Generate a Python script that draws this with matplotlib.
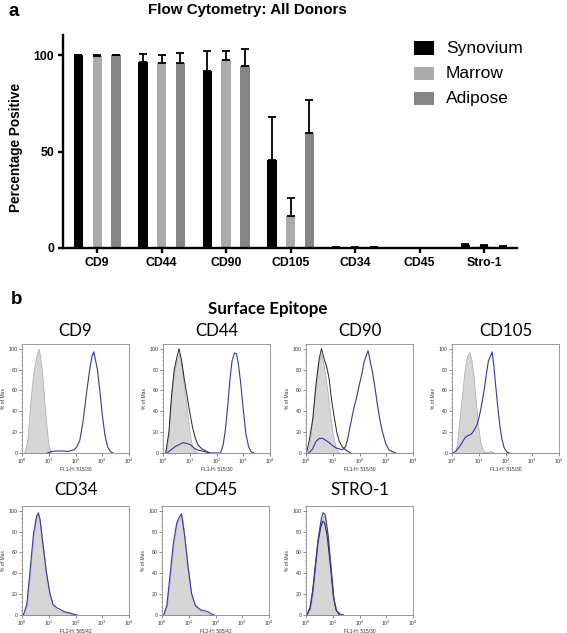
import matplotlib
matplotlib.use("Agg")
import matplotlib.pyplot as plt
import numpy as np
from matplotlib.patches import Rectangle
from matplotlib.ticker import FixedLocator, LogLocator, NullFormatter, MultipleLocator

# ---------------- data: panel a ----------------
categories = ["CD9", "CD44", "CD90", "CD105", "CD34", "CD45", "Stro-1"]
series_names = ["Synovium", "Marrow", "Adipose"]
synovium = [99.8, 96.6, 92.0, 45.8, 0.3, 0.1, 1.4]
synovium_err = [0.3, 3.9, 10.1, 22.2, 0.1, 0.05, 0.5]
marrow = [99.7, 95.7, 97.2, 16.6, 0.2, 0.1, 1.0]
marrow_err = [0.4, 4.3, 4.9, 9.2, 0.1, 0.05, 0.7]
adipose = [99.8, 96.0, 94.1, 59.7, 0.3, 0.1, 0.7]
adipose_err = [0.3, 5.2, 9.2, 16.9, 0.1, 0.05, 0.3]
bar_colors = ["#000000", "#ababab", "#858585"]
y_ticks = [0, 50, 100]

# ---------------- data: panel b (log10 fluorescence, % of max) ----------------
panel_titles = ["CD9", "CD44", "CD90", "CD105", "CD34", "CD45", "STRO-1"]
panel_xlabels = ["FL1-H: 515/30", "FL1-H: 515/30", "FL1-H: 515/30", "FL1-H: 515/30",
                 "FL2-H: 585/42", "FL2-H: 585/42", "FL1-H: 515/30"]

cd9_isotype = [(0.08, 0), (0.2, 12), (0.3, 45), (0.4, 72), (0.5, 88), (0.57, 96), (0.62, 100),
               (0.68, 92), (0.75, 78), (0.82, 55), (0.9, 30), (0.98, 10), (1.05, 2), (1.12, 0)]
cd9_stained = [(0.95, 0), (1.1, 1.5), (1.4, 2), (1.7, 1.5), (1.95, 3), (2.05, 6), (2.16, 12),
               (2.28, 30), (2.4, 55), (2.53, 80), (2.62, 93), (2.68, 97), (2.74, 90), (2.82, 80),
               (2.9, 62), (3.0, 37), (3.1, 17), (3.2, 6), (3.3, 1.5), (3.4, 0)]

cd44_isotype = [(0.1, 0), (0.2, 15), (0.3, 50), (0.4, 75), (0.5, 88), (0.6, 95), (0.7, 82),
                (0.8, 60), (0.9, 40), (1.0, 18), (1.08, 8), (1.2, 2), (1.3, 0)]
cd44_unstained = [(0.1, 0), (0.22, 20), (0.32, 55), (0.42, 80), (0.52, 92), (0.6, 100),
                  (0.7, 88), (0.8, 70), (0.9, 55), (0.96, 45), (1.1, 25), (1.2, 15), (1.3, 8),
                  (1.45, 4), (1.6, 2), (1.75, 0)]
cd44_stained = [(0.15, 0), (0.3, 3), (0.45, 6), (0.6, 8), (0.75, 10), (0.9, 9), (1.02, 8),
                (1.15, 5), (1.27, 3), (1.45, 2), (1.6, 1), (1.8, 0), (2.15, 0), (2.25, 8),
                (2.33, 22), (2.42, 45), (2.5, 70), (2.58, 88), (2.67, 96), (2.75, 95),
                (2.82, 85), (2.9, 68), (3.0, 42), (3.1, 18), (3.2, 6), (3.3, 1), (3.4, 0)]

cd90_isotype = [(0.05, 0), (0.15, 12), (0.25, 35), (0.35, 62), (0.45, 85), (0.56, 95),
                (0.66, 85), (0.8, 60), (0.9, 38), (0.99, 20), (1.11, 5), (1.25, 0)]
cd90_unstained = [(0.02, 0), (0.12, 12), (0.25, 32), (0.37, 65), (0.49, 90), (0.58, 100),
                  (0.68, 90), (0.78, 82), (0.86, 72), (0.95, 52), (1.05, 35), (1.15, 20),
                  (1.23, 12), (1.35, 6), (1.48, 3), (1.67, 0)]
cd90_stained = [(0.1, 0), (0.25, 4), (0.37, 11), (0.5, 14), (0.62, 14), (0.75, 12),
                (0.86, 10), (1.0, 7), (1.11, 5), (1.25, 4), (1.36, 3), (1.48, 6), (1.56, 14),
                (1.67, 28), (1.78, 42), (1.88, 52), (1.98, 64), (2.08, 75), (2.18, 88),
                (2.26, 94), (2.32, 98), (2.4, 88), (2.48, 78), (2.57, 64), (2.66, 48),
                (2.76, 32), (2.86, 20), (2.98, 9), (3.1, 3), (3.25, 1), (3.35, 0)]

cd105_isotype = [(0.12, 0), (0.2, 12), (0.3, 38), (0.4, 62), (0.48, 82), (0.58, 94), (0.65, 97),
                 (0.72, 90), (0.8, 75), (0.89, 50), (0.97, 28), (1.05, 12), (1.13, 4),
                 (1.22, 1), (1.35, 1), (1.42, 2), (1.5, 1), (1.6, 0)]
cd105_stained = [(0.04, 0), (0.15, 2), (0.28, 6), (0.4, 11), (0.5, 15), (0.62, 17), (0.72, 18),
                 (0.83, 22), (0.93, 27), (1.01, 34), (1.1, 45), (1.2, 60), (1.28, 75),
                 (1.36, 88), (1.44, 93), (1.5, 97), (1.56, 85), (1.62, 68), (1.7, 47),
                 (1.78, 28), (1.86, 14), (1.95, 5), (2.05, 1), (2.15, 0)]

cd34_isotype = [(0.05, 0), (0.18, 10), (0.3, 40), (0.43, 75), (0.55, 94), (0.61, 97),
                (0.67, 91), (0.79, 66), (0.91, 40), (1.04, 20), (1.16, 9), (1.3, 5),
                (1.5, 3), (1.7, 2), (1.9, 1), (2.05, 0)]
cd34_stained = [(0.05, 0), (0.18, 10), (0.3, 42), (0.43, 78), (0.55, 95), (0.61, 98),
                (0.67, 92), (0.79, 66), (0.91, 41), (1.04, 21), (1.16, 10), (1.3, 7),
                (1.45, 5), (1.6, 3), (1.77, 2), (1.9, 1), (2.05, 0)]

cd45_isotype = [(0.06, 0), (0.18, 8), (0.3, 35), (0.42, 65), (0.55, 87), (0.68, 94), (0.75, 95),
                (0.85, 74), (0.98, 44), (1.1, 20), (1.25, 8), (1.45, 4), (1.65, 2), (1.85, 0)]
cd45_stained = [(0.06, 0), (0.18, 9), (0.3, 38), (0.42, 68), (0.55, 88), (0.65, 94), (0.73, 97),
                (0.85, 75), (0.98, 45), (1.1, 21), (1.25, 9), (1.45, 5), (1.6, 4), (1.72, 3),
                (1.85, 1), (1.95, 0)]

stro1_isotype = [(0.03, 0), (0.15, 5), (0.25, 20), (0.35, 45), (0.45, 70), (0.57, 90),
                 (0.66, 95), (0.72, 93), (0.82, 75), (0.94, 42), (1.04, 16), (1.14, 4),
                 (1.25, 0)]
stro1_unstained = [(0.03, 0), (0.15, 6), (0.25, 22), (0.35, 46), (0.45, 70), (0.55, 84),
                   (0.63, 90), (0.7, 88), (0.8, 74), (0.92, 45), (1.02, 18), (1.12, 5),
                   (1.25, 0)]
stro1_stained = [(0.03, 0), (0.15, 7), (0.25, 24), (0.35, 48), (0.45, 72), (0.57, 92),
                 (0.64, 98), (0.72, 96), (0.82, 78), (0.94, 44), (1.04, 16), (1.14, 4),
                 (1.28, 1), (1.4, 0)]

panel_curves = [
    (cd9_isotype, None, cd9_stained),
    (cd44_isotype, cd44_unstained, cd44_stained),
    (cd90_isotype, cd90_unstained, cd90_stained),
    (cd105_isotype, None, cd105_stained),
    (cd34_isotype, None, cd34_stained),
    (cd45_isotype, None, cd45_stained),
    (stro1_isotype, stro1_unstained, stro1_stained),
]

# ---------------- figure ----------------
W, H = 567, 633
fig = plt.figure(figsize=(W / 100, H / 100), dpi=100)
plt.rcParams['font.family'] = ['Liberation Sans', 'DejaVu Sans']


def fbox(left, top, width, height):
    return [left / W, 1 - (top + height) / H, width / W, height / H]


# ---- panel a ----
ax = fig.add_axes(fbox(63, 35, 454, 213))
x = np.arange(len(categories))
bw = 0.145
off = 0.29
for i, (vals, errs) in enumerate([(synovium, synovium_err), (marrow, marrow_err),
                                   (adipose, adipose_err)]):
    xs = x + (i - 1) * off
    ax.bar(xs, vals, width=bw, color=bar_colors[i], edgecolor='none', zorder=2)
    ax.errorbar(xs, vals, yerr=[np.zeros(len(errs)), errs], fmt='none', ecolor='black',
                elinewidth=1.3, capsize=2.6, capthick=1.3, zorder=3)
ax.set_xlim(-0.53, 6.51)
ax.set_ylim(0, 110.4)
ax.set_yticks(y_ticks)
ax.set_xticks(x)
ax.set_xticklabels(categories)
for s in ['top', 'right']:
    ax.spines[s].set_visible(False)
for s in ['left', 'bottom']:
    ax.spines[s].set_linewidth(1.7)
ax.tick_params(axis='both', width=1.7, length=3.5, labelsize=8.8, pad=3)
for lab in ax.get_xticklabels() + ax.get_yticklabels():
    lab.set_fontweight('bold')
ax.set_ylabel("Percentage Positive", fontsize=9.8, fontweight='bold', labelpad=6)
ax.yaxis.set_label_coords(-0.088, 0.47)

fig.text(247 / W, 1 - 10 / H, "Flow Cytometry: All Donors", ha='center', va='center',
         fontsize=10.9, fontweight='bold')
fig.text(14 / W, 1 - 11 / H, "a", ha='center', va='center', fontsize=13.5, fontweight='bold')

# legend (manual)
leg_y = [48, 73.3, 98.3]
for name, col, yy in zip(series_names, bar_colors, leg_y):
    fig.add_artist(Rectangle((414 / W, 1 - (yy + 6.5) / H), 20 / W, 13 / H,
                             transform=fig.transFigure, facecolor=col, edgecolor='none'))
    fig.text(446 / W, 1 - yy / H, name, ha='left', va='center', fontsize=12.5)

# ---- panel b ----
fig.text(17 / W, 1 - 300 / H, "b", ha='center', va='center', fontsize=13.5, fontweight='bold')
fig.text(268 / W, 1 - 309 / H, "Surface Epitope", ha='center', va='center',
         fontsize=12.2, fontweight='bold', family=['Lato', 'DejaVu Sans'])

positions = [(22, 344), (163, 344), (306, 344), (452, 344),
             (22, 506), (162, 506), (306, 506)]
pw, ph = 107, 109
blue = "#3535a8"

for k, ((pl, pt), title, xl, curves) in enumerate(zip(positions, panel_titles,
                                                         panel_xlabels, panel_curves)):
    hx = fig.add_axes(fbox(pl, pt, pw, ph))
    iso, uns, sta = curves
    ix = [10 ** p[0] for p in iso]
    iy = [p[1] for p in iso]
    hx.fill_between(ix, iy, 0, facecolor="#d6d6d6", edgecolor="#a8a8a8", linewidth=0.5,
                    zorder=1)
    if uns is not None:
        hx.plot([10 ** p[0] for p in uns], [p[1] for p in uns], color="#222222",
                linewidth=0.7, zorder=2)
    hx.plot([10 ** p[0] for p in sta], [p[1] for p in sta], color=blue, linewidth=0.8,
            zorder=3)
    hx.set_xscale('log')
    hx.set_xlim(1, 1e4)
    hx.set_ylim(0, 104.5)
    hx.set_yticks([0, 20, 40, 60, 80, 100])
    hx.yaxis.set_minor_locator(MultipleLocator(4))
    hx.xaxis.set_major_locator(FixedLocator([1, 10, 100, 1000, 10000]))
    hx.xaxis.set_minor_locator(LogLocator(base=10, subs=np.arange(2, 10), numticks=20))
    hx.xaxis.set_minor_formatter(NullFormatter())
    for s in hx.spines.values():
        s.set_color("#8a8a8a")
        s.set_linewidth(0.6)
    hx.tick_params(which='major', length=2, width=0.4, labelsize=3.8, pad=1,
                   colors="#333333")
    hx.tick_params(which='minor', length=1, width=0.3, colors="#555555")
    hx.set_ylabel("% of Max", fontsize=3.6, labelpad=2, color="#333333")
    hx.set_xlabel(xl, fontsize=3.6, labelpad=0.5, color="#333333")
    ty = 331 if pt < 400 else 490
    fig.text((pl + pw / 2) / W, 1 - ty / H, title, ha='center', va='center',
             fontsize=12.2, family=['Lato', 'DejaVu Sans'])

fig.savefig("out.png", dpi=100)
